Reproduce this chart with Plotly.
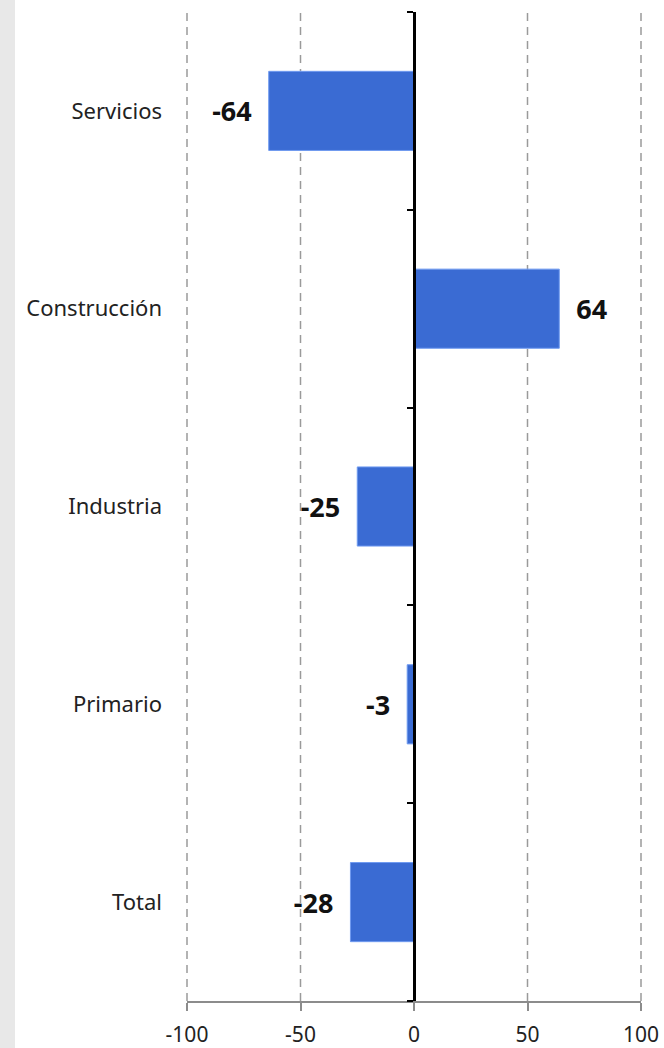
import plotly.graph_objects as go

categories = ["Servicios", "Construcción", "Industria", "Primario", "Total"]
values = [-64, 64, -25, -3, -28]
x_ticks = [-100, -50, 0, 50, 100]
x_tick_text = ["-100", "-50", "0", "50", "100"]

labels = [f"{v}  " if v < 0 else f"  {v}" for v in values]

W, H = 664, 1048
ML, MR, MT, MB = 187, 23, 12, 47
X_RANGE = [-100, 100]

fig = go.Figure()
fig.add_trace(go.Bar(
    y=categories, x=values, orientation="h",
    marker=dict(color="#3a6bd3", line=dict(color="#6f9af0", width=1)),
    width=0.4,
    text=labels, textposition="outside", cliponaxis=False,
    textfont=dict(family="Noto Sans", size=27, color="#111111", weight="bold"),
    hoverinfo="skip",
))
# invisible trace to carry the center axis
fig.add_trace(go.Bar(
    y=categories, x=[0] * len(categories), orientation="h",
    yaxis="y2", marker=dict(color="rgba(0,0,0,0)"), showlegend=False, hoverinfo="skip",
))

fig.update_layout(
    width=W, height=H,
    margin=dict(l=ML, r=MR, t=MT, b=MB, autoexpand=False),
    paper_bgcolor="white", plot_bgcolor="white",
    showlegend=False,
    font=dict(family="Noto Sans", size=22, color="#222222"),
    xaxis=dict(
        range=X_RANGE, tickvals=x_ticks, ticktext=x_tick_text, showgrid=False,
        zeroline=False, showline=True, linecolor="#8c8c8c", linewidth=2,
        ticks="outside", ticklen=8, tickwidth=2, tickcolor="#8c8c8c",
        ticklabelstandoff=6, tickfont=dict(size=21, color="#222222"), automargin=False,
    ),
    yaxis=dict(
        categoryorder="array", categoryarray=categories[::-1],
        range=[-0.5, 4.5], showgrid=False, zeroline=False, showline=False,
        ticks="", ticklabelstandoff=24, tickfont=dict(size=22), automargin=False,
    ),
    yaxis2=dict(
        type="category", categoryorder="array", categoryarray=categories[::-1],
        range=[-0.5, 4.5], overlaying="y", anchor="free", position=0.5,
        showline=True, linecolor="black", linewidth=3,
        ticks="outside", tickson="boundaries", ticklen=6, tickwidth=2, tickcolor="black",
        showticklabels=False, showgrid=False, zeroline=False, automargin=False,
    ),
    bargap=0.6,
)

# dashed vertical gridlines in paper coords (unclipped, so the edge ones show fully)
for t in x_ticks:
    if t != 0:
        px = (t - X_RANGE[0]) / (X_RANGE[1] - X_RANGE[0])
        fig.add_shape(type="line", xref="paper", yref="paper", x0=px, x1=px, y0=0, y1=1,
                      line=dict(color="#9a9a9a", width=1.5, dash="8px,6px"), layer="below")

# gray strip on the left edge
plot_w = W - ML - MR
fig.add_shape(type="rect", xref="paper", yref="paper",
              x0=-ML / plot_w, x1=(15 - ML) / plot_w, y0=-MB / (H - MT - MB), y1=1 + MT / (H - MT - MB),
              fillcolor="#e8e8e8", line=dict(width=0), layer="below")

# page body has a default 8px margin; drop it so the figure fills the window
fig.write_html("out.html", config={"displayModeBar": False},
               post_script="document.body.style.margin='0';")
